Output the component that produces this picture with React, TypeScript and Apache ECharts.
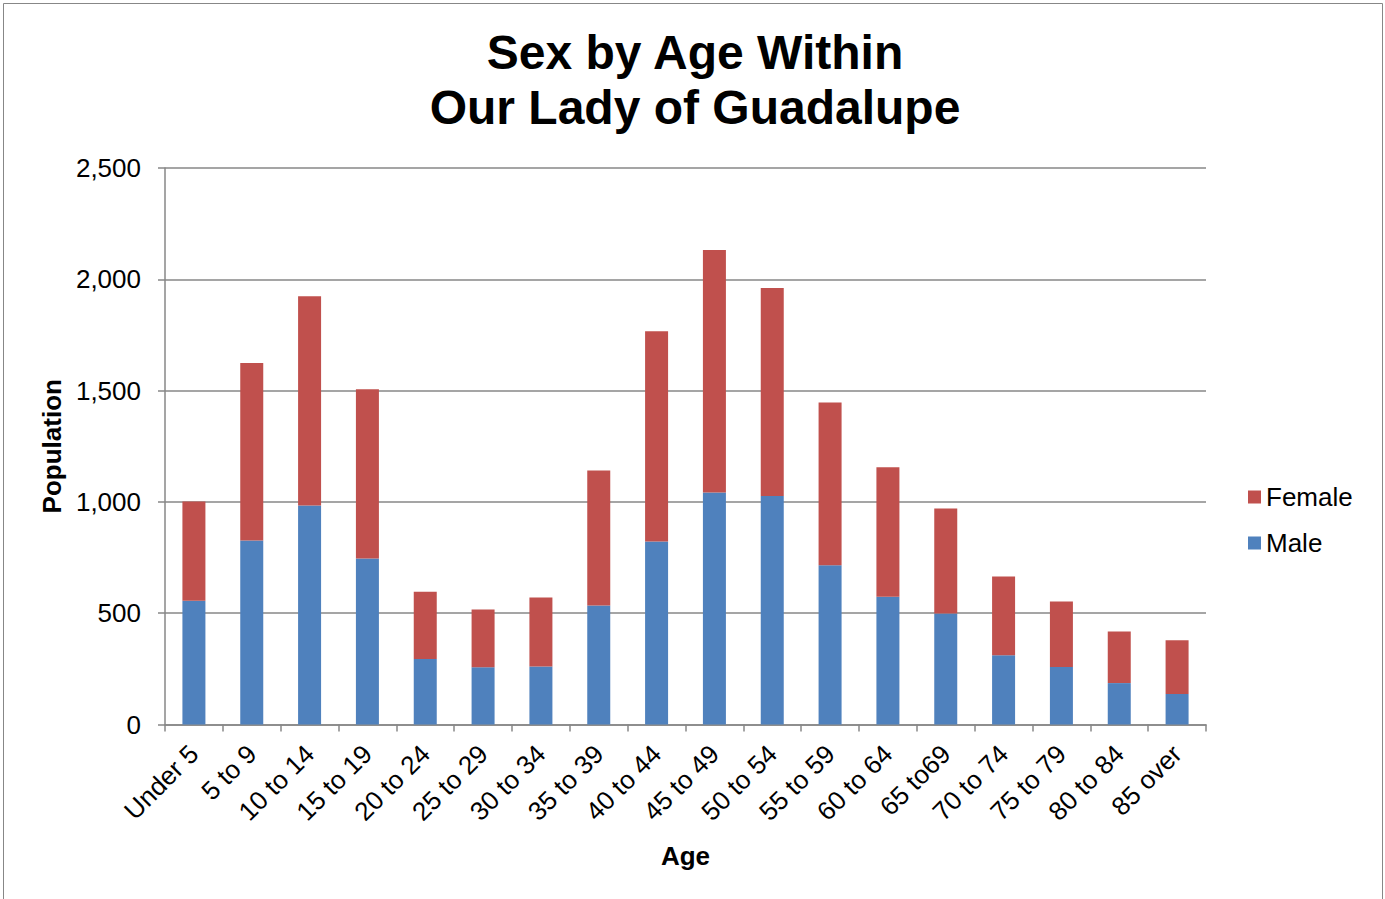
import React, { useEffect, useRef } from "react";
import * as echarts from "echarts";

const categories = [
  "Under 5", "5 to 9", "10 to 14", "15 to 19", "20 to 24", "25 to 29",
  "30 to 34", "35 to 39", "40 to 44", "45 to 49", "50 to 54", "55 to 59",
  "60 to 64", "65 to69", "70 to 74", "75 to 79", "80 to 84", "85 over",
];
const male = [556, 827, 984, 746, 294, 257, 260, 535, 822, 1042, 1026, 715, 574, 499, 311, 258, 186, 137];
const female = [446, 797, 940, 760, 302, 260, 311, 606, 945, 1090, 935, 731, 582, 471, 354, 295, 232, 242];
const yTicks = { min: 0, max: 2500, interval: 500 };

const FONT = "'Liberation Sans', Arial, sans-serif";
const GRAY = "#878787";

export default function App() {
  const ref = useRef<HTMLDivElement>(null);
  useEffect(() => {
    if (!ref.current) return;
    const chart = echarts.init(ref.current, null, { renderer: "svg" });
    chart.setOption({
      animation: false,
      backgroundColor: "#ffffff",
      textStyle: { fontFamily: FONT },
      graphic: [
        {
          type: "rect",
          shape: { x: 3.5, y: 3.5, width: 1379, height: 1000 },
          style: { fill: "none", stroke: GRAY, lineWidth: 1 },
          silent: true,
        },
      ],
      title: {
        text: "Sex by Age Within\nOur Lady of Guadalupe",
        left: 690,
        textAlign: "center",
        top: 20,
        textStyle: {
          fontFamily: FONT,
          fontSize: 48,
          fontWeight: "bold",
          color: "#000",
          lineHeight: 55,
        },
      },
      legend: {
        orient: "vertical",
        left: 1243,
        top: 479,
        data: ["Female", "Male"],
        icon: "rect",
        itemWidth: 13,
        itemHeight: 13,
        itemGap: 20,
        itemTextGap: 6,
        textStyle: { fontFamily: FONT, fontSize: 26, color: "#000", lineHeight: 26 },
      },
      grid: { left: 165, right: 179, top: 168, bottom: 174.5, containLabel: false },
      xAxis: {
        type: "category",
        data: categories,
        name: "Age",
        nameLocation: "middle",
        nameGap: 118,
        nameTextStyle: { fontFamily: FONT, fontSize: 26, fontWeight: "bold", color: "#000" },
        axisLine: { show: true, lineStyle: { color: GRAY, width: 1.5 } },
        axisTick: { show: true, length: 7, lineStyle: { color: GRAY, width: 1.5 } },
        axisLabel: {
          rotate: 45,
          interval: 0,
          margin: 25,
          fontFamily: FONT,
          fontSize: 26,
          color: "#000",
        },
      },
      yAxis: {
        type: "value",
        min: yTicks.min,
        max: yTicks.max,
        interval: yTicks.interval,
        name: "Population",
        nameLocation: "middle",
        nameGap: 97,
        nameTextStyle: { fontFamily: FONT, fontSize: 26, fontWeight: "bold", color: "#000" },
        axisLine: { show: true, lineStyle: { color: GRAY, width: 1.5 } },
        axisTick: { show: true, length: 7, lineStyle: { color: GRAY, width: 1.5 } },
        axisLabel: {
          margin: 24,
          fontFamily: FONT,
          fontSize: 26,
          color: "#000",
          formatter: (v: number) => v.toLocaleString("en-US"),
        },
        splitLine: { show: true, lineStyle: { color: GRAY, width: 1.5 } },
      },
      series: [
        {
          name: "Male",
          type: "bar",
          stack: "total",
          data: male,
          barWidth: 23,
          itemStyle: { color: "#4F81BD" },
        },
        {
          name: "Female",
          type: "bar",
          stack: "total",
          data: female,
          barWidth: 23,
          itemStyle: { color: "#C0504D" },
        },
      ],
    });
    return () => chart.dispose();
  }, []);
  return (
    <div
      ref={ref}
      style={{ position: "absolute", left: 0, top: 0, width: 1385, height: 899 }}
    />
  );
}
